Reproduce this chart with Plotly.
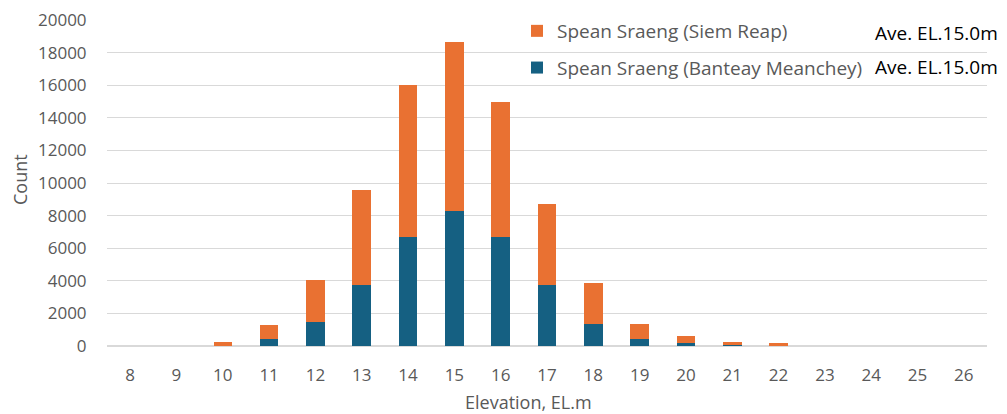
import plotly.graph_objects as go

elevations = [str(v) for v in range(8, 27)]
banteay_meanchey = [0, 0, 20, 430, 1460, 3720, 6710, 8290, 6710, 3720, 1380, 430, 180, 40, 10, 0, 0, 0, 0]
siem_reap = [0, 0, 230, 830, 2610, 5830, 9310, 10330, 8290, 5020, 2500, 950, 430, 220, 150, 0, 0, 0, 0]
series_names = ["Spean Sraeng (Banteay Meanchey)", "Spean Sraeng (Siem Reap)"]
average_labels = ["Ave. EL.15.0m", "Ave. EL.15.0m"]
y_ticks = list(range(0, 20001, 2000))

FONT = "Open Sans"
GREY = "#595959"

# plot area in figure pixels
L, R, T, B = 99, 979, 12, 338
W, H = 999, 406
PW, PH = R - L, B - T

def px(x):
    return (x - L) / PW

def py(y):
    return (B - y) / PH

fig = go.Figure()
fig.add_trace(go.Bar(x=elevations, y=banteay_meanchey, name=series_names[0],
                     marker=dict(color="#156082", line=dict(width=0)),
                     legendgroup="a", legendrank=2))
fig.add_trace(go.Bar(x=elevations, y=siem_reap, name=series_names[1],
                     marker=dict(color="#E97132", line=dict(width=0)),
                     legendgroup="b", legendrank=1))

fig.update_layout(
    width=W, height=H,
    margin=dict(l=L, r=W - R, t=T, b=H - B, autoexpand=False),
    barmode="stack", bargap=0.6,
    plot_bgcolor="white", paper_bgcolor="white",
    font=dict(family=FONT, color=GREY, size=17),
    showlegend=True,
    legend=dict(x=px(509), y=py(4), xanchor="left", yanchor="top", traceorder="grouped",
                bgcolor="rgba(0,0,0,0)", font=dict(size=19, color=GREY),
                tracegroupgap=9, itemwidth=30),
    xaxis=dict(type="category", showgrid=False, showline=False, zeroline=False,
               ticks="outside", ticklen=14, tickcolor="rgba(0,0,0,0)",
               tickfont=dict(size=17, color=GREY)),
    yaxis=dict(range=[0, 20000], tickvals=y_ticks, tickformat="d", showgrid=True,
               gridcolor="#D9D9D9", gridwidth=1, zeroline=True, zerolinecolor="#D9D9D9",
               showline=False, ticks="outside", ticklen=16, tickcolor="rgba(0,0,0,0)",
               ticklabeloverflow="allow", tickfont=dict(size=17, color=GREY)),
)

fig.add_annotation(x=px(520), y=py(394), xref="paper", yref="paper",
                   text="Elevation, EL.m", showarrow=False, xanchor="center", yanchor="middle",
                   font=dict(size=18, color=GREY, family=FONT))
fig.add_annotation(x=px(12), y=py(172), xref="paper", yref="paper",
                   text="Count", showarrow=False, textangle=-90, xanchor="center", yanchor="middle",
                   font=dict(size=18, color=GREY, family=FONT))
for lbl, ypix in zip(average_labels, [25, 59]):
    fig.add_annotation(x=px(992), y=py(ypix), xref="paper", yref="paper",
                       text=lbl, showarrow=False, xanchor="right", yanchor="middle",
                       font=dict(size=19, color="black", family=FONT))

fig.write_html("out.html")
